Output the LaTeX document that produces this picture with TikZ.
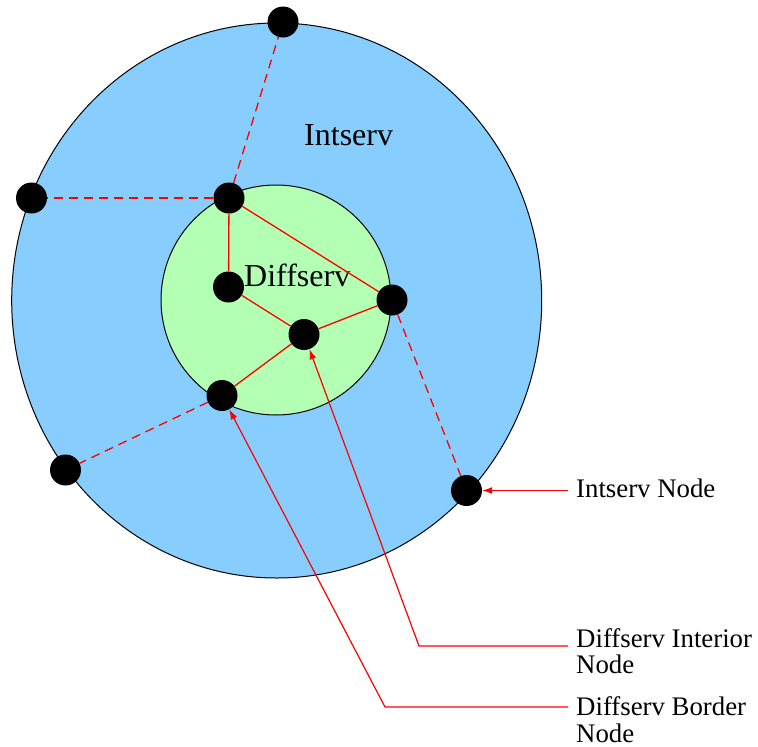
\documentclass[tikz,border=0pt]{standalone}
\usepackage{fontspec}
\setmainfont{Liberation Serif}
\usetikzlibrary{arrows.meta}
\definecolor{intblue}{RGB}{135,206,255}
\definecolor{diffgreen}{RGB}{179,255,179}
\tikzset{
  netdot/.style={circle,fill=black,inner sep=0pt,minimum size=31pt},
  link/.style={red,line width=1.3pt},
  dashlink/.style={red,line width=1.3pt,dash pattern=on 9pt off 6pt},
  pointer/.style={red,line width=1.2pt,-{Latex[length=10pt,width=7pt]}},
  biglabel/.style={font=\fontsize{32}{34}\selectfont,inner sep=0pt,anchor=base west},
  smalllabel/.style={font=\fontsize{26.8}{28}\selectfont,inner sep=0pt,anchor=base west,text depth=0pt}
}
\begin{document}
\begin{tikzpicture}[x=1pt,y=-1pt]
\useasboundingbox (0,0) rectangle (758,747);

% domains
\draw[fill=intblue,line width=1pt] (276.7,300.5) ellipse [x radius=265,y radius=277.5];
\draw[fill=diffgreen,line width=1pt] (276,300) circle [radius=115];

\node[biglabel] (intserv) at (304,145) {Intserv};
\node[biglabel] (diffserv) at (244,286.5) {Diffserv};

% routers
\node[netdot] (top)   at (283,22) {};
\node[netdot] (left)  at (31.5,198) {};
\node[netdot] (A)     at (229,198) {};
\node[netdot] (B)     at (228.5,287) {};
\node[netdot] (C)     at (392,300) {};
\node[netdot] (D)     at (304,334.5) {};
\node[netdot] (E)     at (222,395.5) {};
\node[netdot] (F)     at (65.5,470) {};
\node[netdot] (G)     at (466.5,490.5) {};

% links inside the Diffserv domain
\draw[link] (A) -- (B);
\draw[link] (A) -- (C);
\draw[link] (B) -- (D);
\draw[link] (D) -- (C);
\draw[link] (D) -- (E);

% links to Intserv nodes
\draw[dashlink] (A) -- (top);
\draw[dashlink] (A) -- (left);
\draw[dashlink] (C) -- (G);
\draw[dashlink] (E) -- (F);

% legend
\node[smalllabel] (lint) at (576,497) {Intserv Node};
\node[smalllabel] (ldi1) at (576,647) {Diffserv Interior};
\node[smalllabel] (ldi2) at (576,673) {Node};
\node[smalllabel] (ldb1) at (576,715) {Diffserv Border};
\node[smalllabel] (ldb2) at (576,742) {Node};

\coordinate (pint) at (568,490.5);
\coordinate (pdi)  at (568,646);
\coordinate (kdi)  at (419,646);
\coordinate (pdb)  at (568,707);
\coordinate (kdb)  at (385,707);

\draw[pointer] (pint) -- (G);
\draw[pointer] (pdi) -- (kdi) -- (D);
\draw[pointer] (pdb) -- (kdb) -- (E);
\end{tikzpicture}
\end{document}
